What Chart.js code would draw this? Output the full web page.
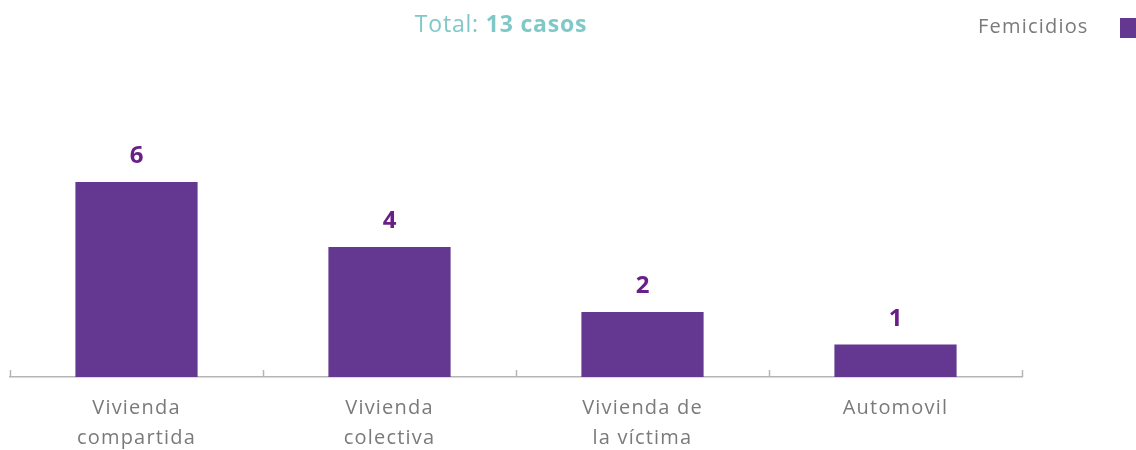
<!DOCTYPE html>
<html>
<head>
<meta charset="utf-8">
<script src="https://cdn.jsdelivr.net/npm/chart.js@4"></script>
<style>
  html, body { margin: 0; padding: 0; background: #fff; }
  #wrap { width: 1136px; height: 450px; }
</style>
</head>
<body>
<div id="wrap"><canvas id="lugarChart"></canvas></div>
<script>
const categories = [['Vivienda', 'compartida'], ['Vivienda', 'colectiva'], ['Vivienda de', 'la víctima'], ['Automovil']];
const femicidios = [6, 4, 2, 1];
const seriesName = 'Femicidios';
const totalCasos = 13;

const FONT = "'Open Sans', 'Noto Sans', sans-serif";
const BAR = '#643790';
const LABEL = '#6a1f87';
const GREY = '#7a7a7a';
const TEAL = '#80c8c8';

// title (mixed weight), legend on the right, value labels, upward ticks
const decor = {
  id: 'decor',
  beforeDraw(chart) {
    // the original face is wide, spread the letters a little
    chart.ctx.letterSpacing = '1.2px';
  },
  afterDraw(chart) {
    const c = chart.ctx;
    const x = chart.scales.x;
    const area = chart.chartArea;
    c.save();

    // title
    c.letterSpacing = '0.8px';
    c.textBaseline = 'middle';
    c.fillStyle = TEAL;
    const t1 = 'Total: ', t2 = totalCasos + ' casos';
    c.font = `400 23px ${FONT}`;
    const w1 = c.measureText(t1).width;
    c.font = `700 23px ${FONT}`;
    const w2 = c.measureText(t2).width;
    let tx = 501 - (w1 + w2) / 2;
    c.font = `400 23px ${FONT}`;
    c.textAlign = 'left';
    c.fillText(t1, tx, 25);
    c.font = `700 23px ${FONT}`;
    c.fillText(t2, tx + w1, 25);

    // legend
    c.letterSpacing = '1.2px';
    c.font = `400 20px ${FONT}`;
    c.fillStyle = GREY;
    c.textAlign = 'left';
    c.fillText(seriesName, 978, 27);
    c.fillStyle = BAR;
    c.fillRect(1120, 18, 17, 20);

    // value labels
    c.letterSpacing = '0px';
    const meta = chart.getDatasetMeta(0);
    c.font = `700 24px ${FONT}`;
    c.fillStyle = LABEL;
    c.textAlign = 'center';
    c.textBaseline = 'alphabetic';
    meta.data.forEach((bar, i) => {
      c.fillText(String(femicidios[i]), bar.x, bar.y - 19);
    });

    // ticks pointing up from the axis
    c.strokeStyle = '#b5b5b5';
    c.lineWidth = 1.5;
    for (let i = 0; i <= categories.length; i++) {
      const px = Math.round(x.getPixelForValue(i - 0.5)) + 0.5;
      c.beginPath();
      c.moveTo(px, area.bottom);
      c.lineTo(px, area.bottom - 7);
      c.stroke();
    }
    c.restore();
    c.letterSpacing = '0px';
  }
};

new Chart(document.getElementById('lugarChart'), {
  type: 'bar',
  data: {
    labels: categories,
    datasets: [{
      label: seriesName,
      data: femicidios,
      backgroundColor: BAR,
      categoryPercentage: 1,
      barPercentage: 0.483
    }]
  },
  options: {
    responsive: true,
    maintainAspectRatio: false,
    animation: false,
    layout: { padding: { top: 52, left: 10, right: 114, bottom: 0 } },
    plugins: {
      legend: { display: false },
      title: { display: false },
      tooltip: { enabled: false }
    },
    scales: {
      x: {
        afterFit: s => { s.height = 73; },
        grid: { display: false, drawTicks: false },
        border: { display: true, color: '#b5b5b5', width: 1.5 },
        ticks: {
          color: GREY,
          padding: 16,
          font: { family: FONT, size: 20, weight: 400, lineHeight: 1.5 }
        }
      },
      y: {
        display: false,
        min: 0,
        max: 10
      }
    }
  },
  plugins: [decor]
});
</script>
</body>
</html>
